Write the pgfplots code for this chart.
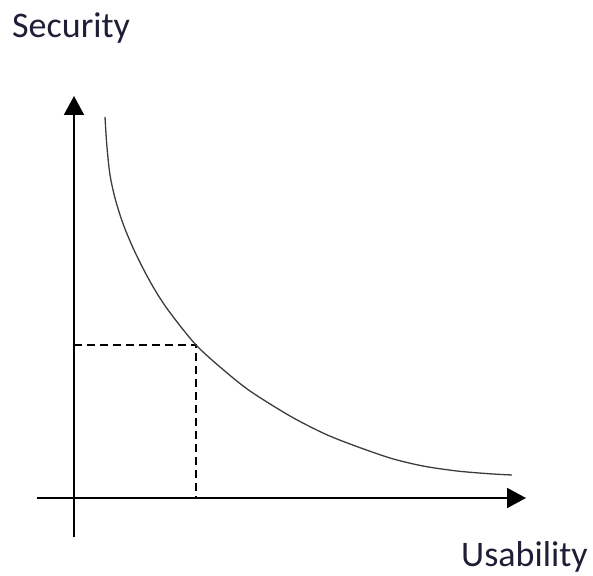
\documentclass[border=0pt]{standalone}
\usepackage{pgfplots}
\pgfplotsset{compat=1.18}
\usepackage{fontspec}
\setmainfont{Carlito}
\usetikzlibrary{arrows.meta}
\definecolor{txt}{RGB}{30,30,55}
\definecolor{crv}{RGB}{60,60,60}
\begin{document}
\begin{tikzpicture}
\begin{axis}[
  scale only axis, width=593pt, height=575pt,
  xmin=0, xmax=593, ymin=0, ymax=575,
  hide axis, clip=false,
]
\path (axis cs:0,0) rectangle (axis cs:593,575);
% axes
\addplot[black, line width=2pt, -{Triangle[length=19pt,width=20pt]}] coordinates {(37,77) (526,77)};
\addplot[black, line width=2pt, -{Triangle[length=19pt,width=20pt]}] coordinates {(74,38) (74,479)};
% dashed guides
\addplot[black, line width=2pt, dash pattern=on 8pt off 5pt] coordinates {(74,230) (196,230) (196,77)};
% curve
\addplot[crv, line width=1.3pt, smooth, tension=0.5] coordinates {
(105,458) (106.8,430) (110,400) (115.5,375) (123.5,350) (134,325) (146.5,300)
(158,280) (171,261) (196,230) (223,205.5) (250,184) (290,159) (323,142)
(350,131) (390,117) (423,109) (457,104) (490,101.2) (512,100)};
\node[anchor=base west, inner sep=0pt, font=\fontsize{36}{40}\selectfont, text=txt] at (axis cs:12,537) {Security};
\node[anchor=base west, inner sep=0pt, font=\fontsize{36}{40}\selectfont, text=txt] at (axis cs:461,9) {Usability};
\end{axis}
\end{tikzpicture}
\end{document}
